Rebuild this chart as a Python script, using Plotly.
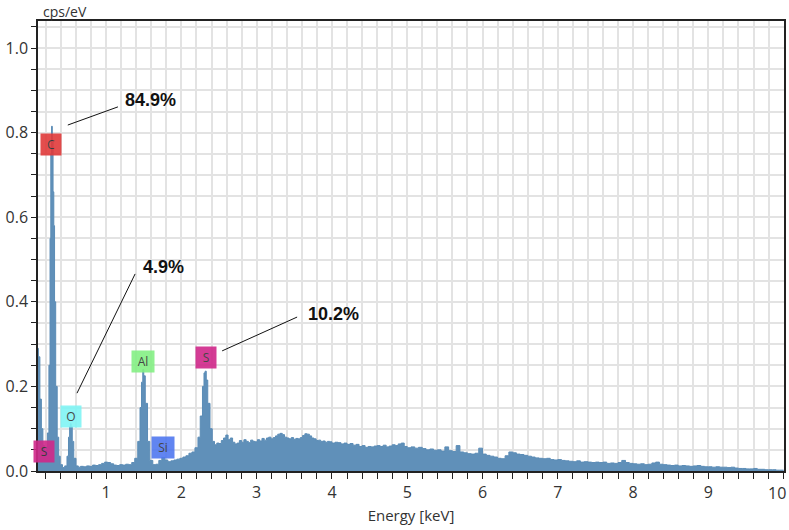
import plotly.graph_objects as go

# spectrum (energy in keV, intensity in cps/eV)
energy_kev = [
    0.095, 0.10, 0.12, 0.14, 0.16, 0.18, 0.20, 0.22, 0.24, 0.255, 0.265, 0.275, 0.285, 0.295,
    0.305, 0.315, 0.33, 0.35, 0.37, 0.39, 0.42, 0.45, 0.48, 0.50, 0.515, 0.525, 0.535, 0.55,
    0.57, 0.60, 0.63, 0.66, 0.70, 0.74, 0.78, 0.82, 0.86, 0.90, 0.94, 0.98, 1.02, 1.06, 1.10,
    1.14, 1.18, 1.22, 1.26, 1.30, 1.34, 1.38, 1.42, 1.45, 1.47, 1.487, 1.50, 1.52, 1.55, 1.58,
    1.62, 1.66, 1.70, 1.74, 1.78, 1.82, 1.86, 1.90, 1.94, 1.98, 2.02, 2.06, 2.10, 2.14, 2.18,
    2.22, 2.25, 2.28, 2.30, 2.315, 2.33, 2.35, 2.38, 2.41, 2.44, 2.47, 2.50, 2.53, 2.56, 2.59,
    2.62, 2.65, 2.68, 2.71, 2.74, 2.77, 2.80, 2.83, 2.86, 2.89, 2.92, 2.95, 2.98, 3.01, 3.04,
    3.07, 3.10, 3.13, 3.16, 3.19, 3.22, 3.25, 3.28, 3.31, 3.34, 3.37, 3.40, 3.43, 3.46, 3.49,
    3.52, 3.55, 3.58, 3.61, 3.64, 3.67, 3.70, 3.73, 3.76, 3.79, 3.82, 3.85, 3.88, 3.91, 3.94,
    3.97, 4.00, 4.04, 4.08, 4.12, 4.16, 4.20, 4.24, 4.28, 4.32, 4.36, 4.40, 4.44, 4.48, 4.52,
    4.56, 4.60, 4.64, 4.68, 4.72, 4.76, 4.80, 4.84, 4.88, 4.92, 4.96, 5.00, 5.05, 5.10, 5.15,
    5.20, 5.25, 5.30, 5.35, 5.40, 5.45, 5.50, 5.55, 5.60, 5.65, 5.70, 5.75, 5.80, 5.85, 5.90,
    5.95, 6.00, 6.05, 6.10, 6.15, 6.20, 6.25, 6.30, 6.35, 6.40, 6.45, 6.50, 6.55, 6.60, 6.65,
    6.70, 6.75, 6.80, 6.85, 6.90, 6.95, 7.00, 7.05, 7.10, 7.15, 7.20, 7.25, 7.30, 7.35, 7.40,
    7.45, 7.50, 7.55, 7.60, 7.65, 7.70, 7.75, 7.80, 7.85, 7.90, 7.95, 8.00, 8.05, 8.10, 8.15,
    8.20, 8.25, 8.30, 8.35, 8.40, 8.45, 8.50, 8.55, 8.60, 8.65, 8.70, 8.75, 8.80, 8.85, 8.90,
    8.95, 9.00, 9.05, 9.10, 9.15, 9.20, 9.25, 9.30, 9.35, 9.40, 9.45, 9.50, 9.55, 9.60, 9.65,
    9.70, 9.75, 9.80, 9.85, 9.90, 9.95, 10.0,
]
counts = [
    0.29, 0.27, 0.17, 0.10, 0.06, 0.045, 0.05, 0.09, 0.25, 0.55, 0.75, 0.815, 0.78, 0.66,
    0.58, 0.40, 0.20, 0.08, 0.035, 0.015, 0.008, 0.012, 0.035, 0.08, 0.105, 0.112, 0.105, 0.07,
    0.03, 0.012, 0.009, 0.011, 0.010, 0.012, 0.011, 0.014, 0.013, 0.015, 0.018, 0.021, 0.020, 0.017, 0.014,
    0.013, 0.015, 0.014, 0.016, 0.015, 0.020, 0.030, 0.07, 0.15, 0.21, 0.24, 0.225, 0.16, 0.07, 0.025,
    0.015, 0.016, 0.025, 0.032, 0.026, 0.022, 0.024, 0.026, 0.028, 0.030, 0.033, 0.036, 0.042, 0.045, 0.055,
    0.08, 0.13, 0.20, 0.232, 0.236, 0.215, 0.16, 0.10, 0.07, 0.062, 0.066, 0.065, 0.072, 0.078, 0.085,
    0.074, 0.078, 0.068, 0.064, 0.066, 0.072, 0.068, 0.074, 0.070, 0.067, 0.073, 0.070, 0.069, 0.074, 0.071,
    0.077, 0.073, 0.078, 0.080, 0.076, 0.079, 0.083, 0.087, 0.089, 0.086, 0.080, 0.078, 0.076, 0.079, 0.075,
    0.077, 0.076, 0.079, 0.084, 0.088, 0.087, 0.083, 0.078, 0.076, 0.072, 0.073, 0.070, 0.071, 0.068, 0.070,
    0.069, 0.066, 0.068, 0.067, 0.064, 0.066, 0.063, 0.065, 0.061, 0.063, 0.058, 0.060, 0.056, 0.058, 0.057,
    0.059, 0.060, 0.058, 0.061, 0.057, 0.059, 0.062, 0.060, 0.064, 0.066, 0.058, 0.055, 0.057, 0.054, 0.056,
    0.053, 0.050, 0.052, 0.049, 0.050, 0.047, 0.057, 0.048, 0.046, 0.060, 0.045, 0.043, 0.041, 0.040, 0.042,
    0.054, 0.040, 0.037, 0.035, 0.033, 0.030, 0.029, 0.036, 0.045, 0.043, 0.040, 0.039, 0.037, 0.035, 0.033,
    0.031, 0.030, 0.029, 0.030, 0.027, 0.026, 0.027, 0.025, 0.024, 0.023, 0.022, 0.024, 0.021, 0.022, 0.021,
    0.020, 0.021, 0.020, 0.021, 0.018, 0.019, 0.018, 0.020, 0.025, 0.020, 0.018, 0.017, 0.016, 0.017, 0.015,
    0.016, 0.019, 0.021, 0.016, 0.015, 0.014, 0.013, 0.014, 0.012, 0.013, 0.012, 0.011, 0.012, 0.013, 0.011,
    0.010, 0.010, 0.009, 0.010, 0.009, 0.009, 0.008, 0.009, 0.007, 0.006, 0.006, 0.005, 0.005, 0.006, 0.004,
    0.004, 0.003, 0.003, 0.003, 0.002, 0.002, 0.002,
]

x_tick_labels = [1, 2, 3, 4, 5, 6, 7, 8, 9, 10]

# element markers
elements = ["S", "C", "O", "Al", "Si", "S"]
element_energy = [0.18, 0.273, 0.533, 1.487, 1.753, 2.327]
element_level = [0.047, 0.772, 0.129, 0.258, 0.056, 0.268]
element_colors = ["#d0288a", "#e03a3a", "#80f4f4", "#84f084", "#5078f0", "#d0288a"]

# quantification callouts
pct_labels = ["84.9%", "4.9%", "10.2%"]
pct_text_xy = [(1.594, 0.877), (1.758, 0.482), (4.015, 0.371)]
pct_line_from = [(0.491, 0.818), (0.613, 0.184), (2.541, 0.284)]
pct_line_to = [(1.157, 0.861), (1.385, 0.466), (3.537, 0.364)]

FONT = "Open Sans, DejaVu Sans, sans-serif"
BOLD = "Liberation Sans, Arial, sans-serif"

fig = go.Figure()
fig.add_trace(go.Scatter(
    x=energy_kev, y=counts,
    mode="lines",
    line=dict(color="#5b8cb6", width=1, shape="hv"),
    fill="tozeroy",
    fillcolor="#6090b9",
    hoverinfo="x+y",
    showlegend=False,
))

for name, ex, ey, col in zip(elements, element_energy, element_level, element_colors):
    fig.add_annotation(
        x=ex, y=ey, xref="x", yref="y", text=name, showarrow=False,
        font=dict(family=FONT, size=12, color="#333333"),
        bgcolor=col, opacity=0.9, width=18 if len(name) == 1 else 20, height=19,
        borderpad=1,
    )

for lab, (tx, ty), (x0, y0), (x1, y1) in zip(pct_labels, pct_text_xy, pct_line_from, pct_line_to):
    fig.add_shape(type="line", x0=x0, y0=y0, x1=x1, y1=y1, xref="x", yref="y",
                  line=dict(color="#111111", width=1))
    fig.add_annotation(x=tx, y=ty, xref="x", yref="y", text="<b>" + lab + "</b>",
                       showarrow=False, font=dict(family=BOLD, size=18, color="#111111"))

# axis unit written above the plot, at its top-left corner
fig.add_annotation(x=0, y=1, xref="paper", yref="paper", xshift=3, yshift=10,
                   xanchor="left", yanchor="middle", text="cps/eV", showarrow=False,
                   font=dict(family=FONT, size=14, color="#333333"))

# the last x label sits at the very edge of the page; pin it inside the window
fig.add_annotation(x=1, y=0, xref="paper", yref="paper", xshift=4, yshift=-22,
                   xanchor="right", yanchor="middle", text=str(x_tick_labels[-1]),
                   showarrow=False, font=dict(family=FONT, size=16, color="#333333"))

fig.update_xaxes(
    range=[0.095, 10.005], tickmode="array", tickvals=x_tick_labels[:-1],
    automargin=False,
    showline=True, linecolor="#222222", linewidth=1.5, mirror=True,
    ticks="outside", ticklen=6, tickcolor="#222222",
    showgrid=True, gridcolor="#e3e3e3", gridwidth=1.5,
    minor=dict(dtick=0.2, tick0=0, ticks="outside", ticklen=6, tickcolor="#222222",
               showgrid=True, gridcolor="#e3e3e3", gridwidth=1.5),
    tickfont=dict(family=FONT, size=16, color="#333333"),
    title=dict(text="Energy [keV]", font=dict(family=FONT, size=15, color="#333333"), standoff=9),
    zeroline=False,
)
fig.update_yaxes(
    range=[0, 1.064], dtick=0.2, tick0=0, tickformat=".1f", automargin=False,
    showline=True, linecolor="#222222", linewidth=1.5, mirror=True,
    ticks="outside", ticklen=5, tickcolor="#222222",
    showgrid=True, gridcolor="#e3e3e3", gridwidth=1.5,
    minor=dict(dtick=0.05, tick0=0, ticks="outside", ticklen=5, tickcolor="#222222",
               showgrid=True, gridcolor="#e3e3e3", gridwidth=1.5),
    tickfont=dict(family=FONT, size=16, color="#333333"),
    zeroline=False,
)

fig.update_layout(
    width=789, height=530,
    margin=dict(l=38, r=5, t=21, b=59),
    plot_bgcolor="white", paper_bgcolor="white",
    showlegend=False,
)

# drop the default 8px page margin so the figure sits flush in the window
fig.write_html("out.html", config={"displayModeBar": False},
               post_script="document.body.style.margin='0px';")
